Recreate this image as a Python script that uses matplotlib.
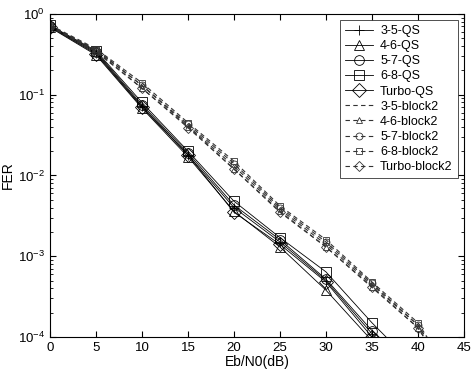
import numpy as np
import matplotlib
matplotlib.use("Agg")
import matplotlib.pyplot as plt

plt.rcParams['font.family'] = ['Liberation Sans', 'DejaVu Sans']

# Eb/N0 points (dB)
ebn0 = [0, 5, 10, 15, 20, 25, 30, 35, 40, 45]

# QS curves (lower, steeper group)
fer_35_qs    = [0.70, 0.33, 0.072, 0.018, 0.0040, 0.0015, 0.00050, 0.00011, 0.000030, 0.000006]
fer_46_qs    = [0.68, 0.31, 0.068, 0.017, 0.0036, 0.0013, 0.00038, 0.00009, 0.000025, 0.000005]
fer_57_qs    = [0.71, 0.34, 0.075, 0.019, 0.0043, 0.0016, 0.00052, 0.00012, 0.000032, 0.000006]
fer_68_qs    = [0.72, 0.35, 0.080, 0.020, 0.0048, 0.0017, 0.00064, 0.00015, 0.000040, 0.000008]
fer_turbo_qs = [0.69, 0.32, 0.070, 0.018, 0.0035, 0.0014, 0.00048, 0.00010, 0.000028, 0.000005]

# block2 curves (upper group)
fer_35_b2    = [0.72, 0.36, 0.13, 0.041, 0.013, 0.0038, 0.0014, 0.00044, 0.00014, 0.000018]
fer_46_b2    = [0.70, 0.35, 0.12, 0.040, 0.012, 0.0036, 0.0013, 0.00042, 0.00013, 0.000017]
fer_57_b2    = [0.71, 0.36, 0.13, 0.043, 0.014, 0.0040, 0.0015, 0.00046, 0.00014, 0.000018]
fer_68_b2    = [0.73, 0.37, 0.14, 0.045, 0.015, 0.0042, 0.0016, 0.00048, 0.00015, 0.000019]
fer_turbo_b2 = [0.69, 0.34, 0.12, 0.039, 0.012, 0.0035, 0.0013, 0.00041, 0.00013, 0.000016]

labels = ['3-5-QS', '4-6-QS', '5-7-QS', '6-8-QS', 'Turbo-QS',
          '3-5-block2', '4-6-block2', '5-7-block2', '6-8-block2', 'Turbo-block2']
series = [fer_35_qs, fer_46_qs, fer_57_qs, fer_68_qs, fer_turbo_qs,
          fer_35_b2, fer_46_b2, fer_57_b2, fer_68_b2, fer_turbo_b2]
markers = ['+', '^', 'o', 's', 'D', '', '^', 'o', 's', 'D']

fig = plt.figure(figsize=(4.71, 3.74), dpi=100)
ax = fig.add_axes([0.106, 0.099, 0.879, 0.864])

for i, (lab, y, m) in enumerate(zip(labels, series, markers)):
    if i < 5:
        ax.semilogy(ebn0, y, color='black', linestyle='-', linewidth=0.6,
                    marker=m, markersize=7, markerfacecolor='none',
                    markeredgewidth=0.6, label=lab)
    else:
        ax.semilogy(ebn0, y, color='#333333', linestyle=(0, (4, 3)), linewidth=0.8,
                    marker=m if m else None, markersize=5, markerfacecolor='none',
                    markeredgewidth=0.6, label=lab)

ax.set_xlim(0, 45)
ax.set_ylim(1e-4, 1)
ax.set_xticks(range(0, 50, 5))
ax.set_xlabel('Eb/N0(dB)', fontsize=10, labelpad=1)
ax.set_ylabel('FER', fontsize=10, labelpad=2)
ax.tick_params(which='both', direction='in', top=True, right=True, labelsize=9.5)
ax.tick_params(which='major', length=4)
ax.tick_params(which='minor', length=2)

leg = ax.legend(loc='upper right', fontsize=9, frameon=True, fancybox=False,
                edgecolor='black', handlelength=2.2, labelspacing=0.25,
                borderpad=0.4, handletextpad=0.6, borderaxespad=0.5)
leg.get_frame().set_linewidth(0.6)

fig.savefig('out.png', dpi=100)
